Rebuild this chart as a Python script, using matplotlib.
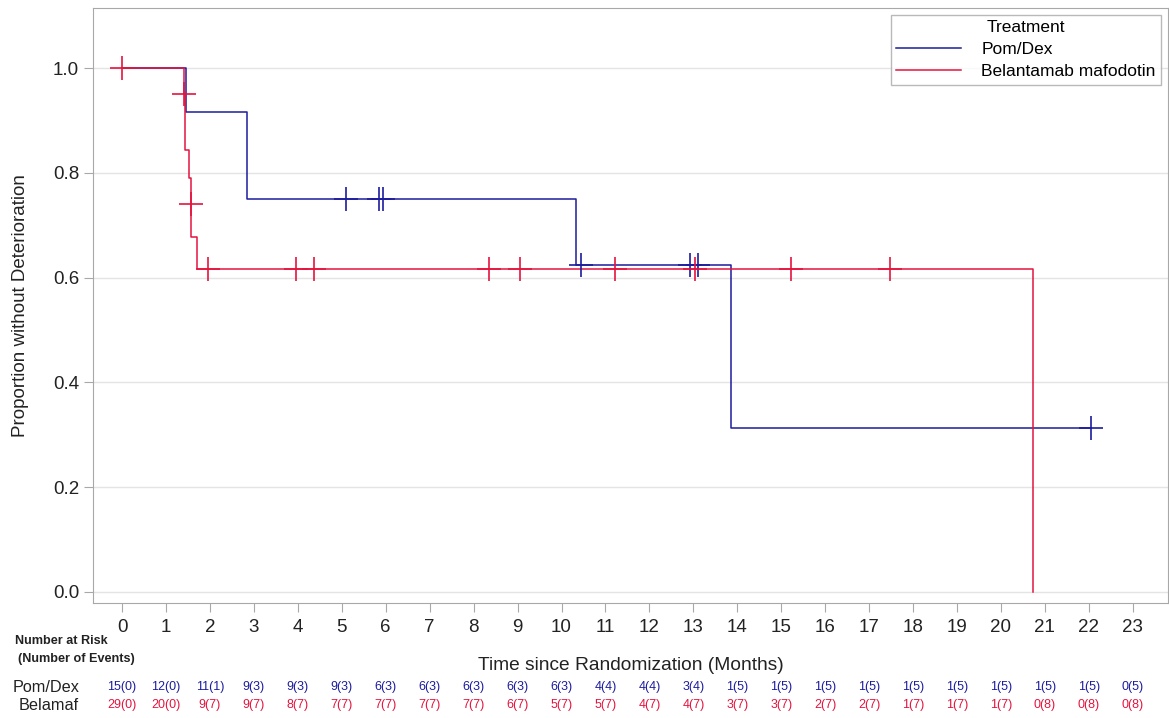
import numpy as np
import matplotlib
matplotlib.use("Agg")
import matplotlib.pyplot as plt

plt.rcParams['font.family'] = ['Liberation Sans', 'DejaVu Sans']

# Kaplan-Meier steps
pom_times = [0, 1.45, 2.84, 10.33, 13.86, 22.04]
pom_surv = [1.0, 0.917, 0.75, 0.625, 0.3125, 0.3125]
bel_times = [0, 1.40, 1.43, 1.52, 1.57, 1.71, 20.74]
bel_surv = [1.0, 0.95, 0.844, 0.791, 0.678, 0.616, 0.0]

# censored observations
pom_cens_t = [5.09, 5.85, 5.94, 10.44, 12.92, 13.10, 22.04]
pom_cens_s = [0.75, 0.75, 0.75, 0.625, 0.625, 0.625, 0.3125]
bel_cens_t = [0, 1.40, 1.58, 1.95, 3.95, 4.37, 8.36, 9.05, 11.21, 13.03, 15.22, 17.47]
bel_cens_s = [1.0, 0.95, 0.74, 0.616, 0.616, 0.616, 0.616, 0.616, 0.616, 0.616, 0.616, 0.616]

# number at risk (number of events) at each month
months = list(range(24))
pom_risk = [15, 12, 11, 9, 9, 9, 6, 6, 6, 6, 6, 4, 4, 3, 1, 1, 1, 1, 1, 1, 1, 1, 1, 0]
pom_events = [0, 0, 1, 3, 3, 3, 3, 3, 3, 3, 3, 4, 4, 4, 5, 5, 5, 5, 5, 5, 5, 5, 5, 5]
bel_risk = [29, 20, 9, 9, 8, 7, 7, 7, 7, 6, 5, 5, 4, 4, 3, 3, 2, 2, 1, 1, 1, 0, 0, 0]
bel_events = [0, 0, 7, 7, 7, 7, 7, 7, 7, 7, 7, 7, 7, 7, 7, 7, 7, 7, 7, 7, 7, 8, 8, 8]

blue = '#1c1c9e'
red = '#e4143e'

fig = plt.figure(figsize=(11.69, 7.18), dpi=100)
ax = fig.add_axes([0.0796, 0.1602, 0.9195, 0.8287])

ax.step(pom_times, pom_surv, where='post', color=blue, lw=1.1, label='Pom/Dex')
ax.step(bel_times, bel_surv, where='post', color=red, lw=1.1, label='Belantamab mafodotin')
ax.plot(pom_cens_t, pom_cens_s, ls='none', marker='+', ms=17, mew=1.2, color=blue)
ax.plot(bel_cens_t, bel_cens_s, ls='none', marker='+', ms=17, mew=1.2, color=red)

ax.set_xlim(-0.66, 23.8)
ax.set_ylim(-0.021, 1.115)
ax.set_xticks(months)
ax.set_yticks(np.arange(0, 1.01, 0.2))
ax.set_yticklabels([f'{v:.1f}' for v in np.arange(0, 1.01, 0.2)])
ax.yaxis.grid(True, color='#e4e4e4', lw=1)
ax.set_axisbelow(True)
for sp in ax.spines.values():
    sp.set_color('#a8a8a8')
ax.tick_params(axis='both', colors='#a8a8a8', labelcolor='#222222', labelsize=13.5, length=6.5)
ax.tick_params(axis='x', pad=5)

ax.set_ylabel('Proportion without Deterioration', fontsize=13.5, color='#222222', labelpad=17)
ax.set_xlabel('Time since Randomization (Months)', fontsize=13.8, color='#222222', labelpad=15)

leg = ax.legend(title='Treatment', loc='upper right', fontsize=12.5, title_fontsize=12.5,
                frameon=True, fancybox=False, edgecolor='#a8a8a8', handlelength=3.7,
                borderpad=0.3, labelspacing=0.4, handletextpad=1.2, borderaxespad=0.4)
leg.get_frame().set_linewidth(1)

# at-risk table
trans = ax.get_xaxis_transform()
for m, r, e in zip(months, pom_risk, pom_events):
    ax.text(m, -0.141, f'{r}({e})', transform=trans, ha='center', va='center',
            fontsize=9, color=blue)
for m, r, e in zip(months, bel_risk, bel_events):
    ax.text(m, -0.171, f'{r}({e})', transform=trans, ha='center', va='center',
            fontsize=9, color=red)

fig.text(61.5 / 1169, 1 - 641 / 718, 'Number at Risk', ha='center', va='center',
         fontsize=9.1, fontweight='bold', color='#222222')
fig.text(76 / 1169, 1 - 659 / 718, '(Number of Events)', ha='center', va='center',
         fontsize=9.1, fontweight='bold', color='#222222')
fig.text(13 / 1169, 1 - 687 / 718, 'Pom/Dex', ha='left', va='center', fontsize=11.7, color='#222222')
fig.text(19 / 1169, 1 - 705 / 718, 'Belamaf', ha='left', va='center', fontsize=11.7, color='#222222')

fig.savefig('out.png', dpi=100)
